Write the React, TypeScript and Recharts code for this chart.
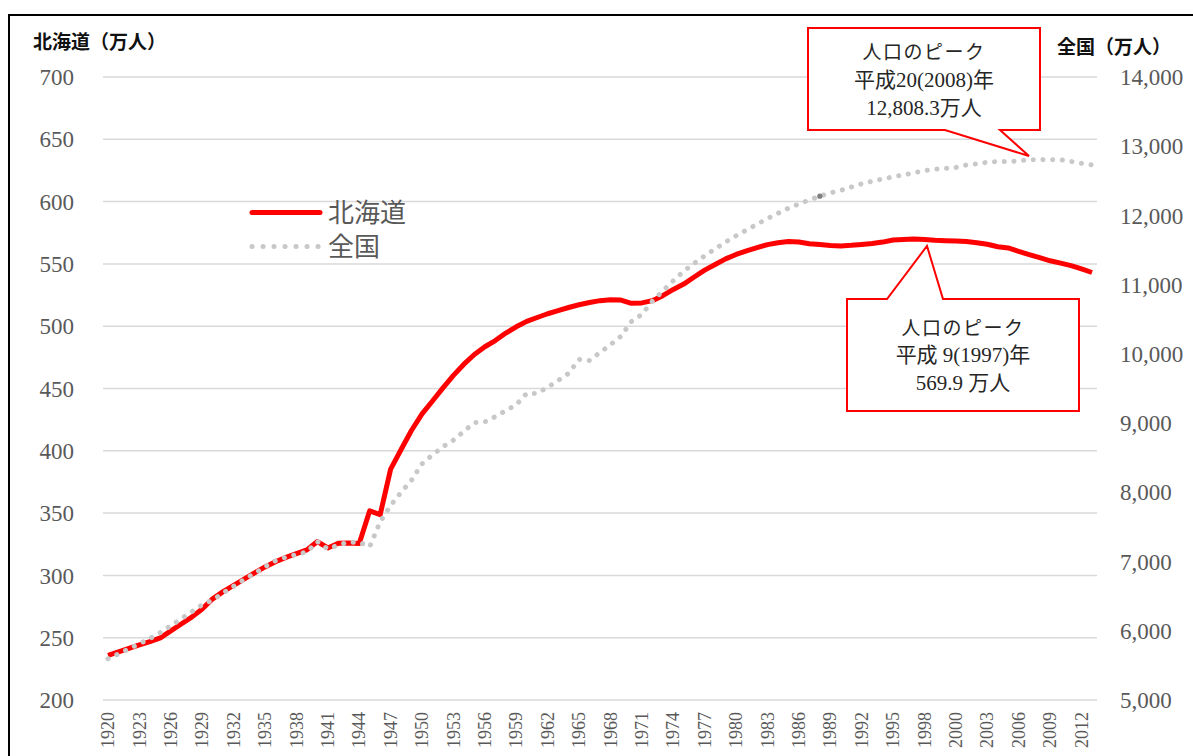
import { LineChart, Line, XAxis, YAxis, CartesianGrid } from "recharts";

// 1920-1998 annual, then two points around 2000, then 2001-2013
const years = [
  "1920", "1921", "1922", "1923", "1924", "1925", "1926", "1927", "1928", "1929",
  "1930", "1931", "1932", "1933", "1934", "1935", "1936", "1937", "1938", "1939",
  "1940", "1941", "1942", "1943", "1944", "1945", "1946", "1947", "1948", "1949",
  "1950", "1951", "1952", "1953", "1954", "1955", "1956", "1957", "1958", "1959",
  "1960", "1961", "1962", "1963", "1964", "1965", "1966", "1967", "1968", "1969",
  "1970", "1971", "1972", "1973", "1974", "1975", "1976", "1977", "1978", "1979",
  "1980", "1981", "1982", "1983", "1984", "1985", "1986", "1987", "1988", "1989",
  "1990", "1991", "1992", "1993", "1994", "1995", "1996", "1997", "1998", "1999",
  "2000", "2000", "2001", "2002", "2003", "2004", "2005", "2006", "2007", "2008",
  "2009", "2010", "2011", "2012", "2013",
];

// 北海道（万人）
const hokkaido = [
  235.9, 238.6, 241.5, 244.2, 246.8, 249.9, 255.5, 261.0, 266.5, 273.0,
  281.2, 287.0, 292.0, 297.0, 302.0, 306.8, 311.0, 314.5, 317.5, 320.5,
  327.2, 322.0, 325.8, 326.0, 325.6, 351.8, 348.8, 385.3, 401.0, 416.5,
  429.6, 440.0, 450.5, 460.5, 469.5, 477.3, 483.5, 488.5, 494.5, 499.5,
  503.9, 507.0, 510.0, 512.5, 515.0, 517.2, 519.0, 520.5, 521.2, 521.0,
  518.4, 518.7, 520.5, 524.5, 529.5, 533.8, 539.5, 545.0, 549.5, 554.0,
  557.6, 560.5, 563.0, 565.5, 567.0, 567.9, 567.5, 566.2, 565.5, 564.8,
  564.4, 564.9, 565.6, 566.3, 567.5, 569.2, 569.6, 569.9, 569.6, 569.0,
  568.6, 568.3, 567.9, 567.0, 565.8, 563.8, 562.8, 560.0, 557.5, 555.0,
  552.5, 550.6, 548.6, 546.0, 543.1,
];

// 全国（万人）
const zenkoku = [
  5596, 5666, 5739, 5812, 5888, 5974, 6074, 6174, 6276, 6376,
  6445, 6545, 6643, 6740, 6831, 6925, 7011, 7063, 7101, 7138,
  7290, 7180, 7240, 7280, 7280, 7215, 7575, 7810, 8000, 8177,
  8412, 8541, 8659, 8754, 8882, 9008, 9017, 9093, 9181, 9264,
  9430, 9429, 9518, 9616, 9718, 9921, 9904, 10020, 10133, 10254,
  10467, 10570, 10760, 10910, 11057, 11194, 11309, 11417, 11517, 11616,
  11706, 11790, 11873, 11954, 12031, 12105, 12166, 12224, 12278, 12326,
  12361, 12410, 12457, 12494, 12527, 12557, 12586, 12616, 12647, 12667,
  12680, 12693, 12729, 12744, 12769, 12779, 12777, 12790, 12803, 12808,
  12803, 12806, 12780, 12752, 12730,
];

const leftTicks = [200, 250, 300, 350, 400, 450, 500, 550, 600, 650, 700];
const rightTicks = [5000, 6000, 7000, 8000, 9000, 10000, 11000, 12000, 13000, 14000];

const data = years.map((year, i) => ({ year, hokkaido: hokkaido[i], zenkoku: zenkoku[i] }));

const GRAY_TEXT = "#595959";
const SERIF = "'Liberation Serif', 'Noto Sans CJK JP', serif";
const CJK = "'Noto Sans CJK JP', sans-serif";

const YearTick = ({ x, y, payload }: any) => (
  <text
    x={x}
    y={y}
    transform={`rotate(-90, ${x}, ${y})`}
    textAnchor="end"
    dy="0.34em"
    fontSize={18}
    fill={GRAY_TEXT}
    fontFamily={SERIF}
  >
    {payload.value}
  </text>
);

const MarkerDot = (p: any) =>
  p.index === 68 ? (
    <circle key={`m-${p.index}`} cx={p.cx} cy={p.cy} r={2.6} fill="#7f7f7f" />
  ) : (
    <g key={`m-${p.index}`} />
  );

export default function App() {
  return (
    <div
      style={{
        position: "fixed",
        left: 0,
        top: 0,
        width: 1193,
        height: 756,
        overflow: "hidden",
        background: "#fff",
      }}
    >
      <div
        style={{
          position: "absolute",
          left: 8,
          top: 14,
          width: 1220,
          height: 800,
          borderLeft: "2px solid #000",
          borderTop: "2px solid #000",
        }}
      />
      <div style={{ position: "absolute", left: 0, top: 0 }}>
        <LineChart width={1193} height={756} data={data} margin={{ top: 77, right: 0, bottom: 0, left: 0 }}>
          <CartesianGrid vertical={false} yAxisId="left" stroke="#d9d9d9" strokeWidth={1.5} />
          <XAxis
            dataKey="year"
            interval={2}
            height={56}
            tickSize={0}
            tickMargin={12}
            axisLine={false}
            tickLine={false}
            padding={{ left: 5, right: 5 }}
            tick={<YearTick />}
          />
          <YAxis
            yAxisId="left"
            domain={[200, 700]}
            ticks={leftTicks}
            width={103}
            tickSize={0}
            tickMargin={29}
            axisLine={false}
            tickLine={false}
            tick={{ fill: GRAY_TEXT, fontSize: 23, fontFamily: SERIF }}
          />
          <YAxis
            yAxisId="right"
            orientation="right"
            domain={[5000, 14000]}
            ticks={rightTicks}
            width={96}
            tickSize={0}
            tickMargin={23}
            axisLine={false}
            tickLine={false}
            tickFormatter={(v: number) => v.toLocaleString("en-US")}
            tick={{ fill: GRAY_TEXT, fontSize: 23, fontFamily: SERIF }}
          />
          <Line
            yAxisId="left"
            type="linear"
            dataKey="hokkaido"
            name="北海道"
            stroke="#ff0000"
            strokeWidth={5}
            strokeLinejoin="round"
            dot={false}
            isAnimationActive={false}
          />
          <Line
            yAxisId="right"
            type="linear"
            dataKey="zenkoku"
            name="全国"
            stroke="#c8c8c8"
            strokeWidth={5}
            strokeDasharray="0.1 9.6"
            strokeLinecap="round"
            dot={<MarkerDot />}
            activeDot={false}
            isAnimationActive={false}
          />
        </LineChart>
      </div>
      <svg
        width={1193}
        height={756}
        style={{ position: "absolute", left: 0, top: 0, pointerEvents: "none" }}
      >
        {/* axis titles */}
        <text x={33} y={49} fontSize={19} fontWeight="bold" fontFamily={CJK} fill="#111">
          北海道（万人）
        </text>
        <text x={1057} y={54} fontSize={19} fontWeight="bold" fontFamily={CJK} fill="#111">
          全国（万人）
        </text>

        {/* legend */}
        <line x1={252} y1={212.5} x2={320} y2={212.5} stroke="#ff0000" strokeWidth={5} strokeLinecap="round" />
        <text x={328} y={222} fontSize={26} fontFamily={CJK} fill={GRAY_TEXT}>
          北海道
        </text>
        <line
          x1={252}
          y1={246.5}
          x2={322}
          y2={246.5}
          stroke="#c8c8c8"
          strokeWidth={5}
          strokeDasharray="0.1 10.9"
          strokeLinecap="round"
        />
        <text x={328} y={256} fontSize={26} fontFamily={CJK} fill={GRAY_TEXT}>
          全国
        </text>

        {/* callout: 全国 peak */}
        <path
          d="M808,28 L1040,28 L1040,130 L1000,130 L1029,156 L945,130 L808,130 Z"
          fill="#fff"
          stroke="#ff0000"
          strokeWidth={2}
        />
        <g fontSize={21} fontFamily={SERIF} fill="#262626" textAnchor="middle">
          <text x={924} y={59} fontSize={19} letterSpacing={1.5}>人口のピーク</text>
          <text x={924} y={87}>平成20(2008)年</text>
          <text x={924} y={115}>12,808.3万人</text>
        </g>

        {/* callout: 北海道 peak */}
        <path
          d="M847,299 L887,299 L927,246 L943,299 L1079,299 L1079,411 L847,411 Z"
          fill="#fff"
          stroke="#ff0000"
          strokeWidth={2}
        />
        <g fontSize={21} fontFamily={SERIF} fill="#262626" textAnchor="middle">
          <text x={963} y={335} fontSize={19} letterSpacing={1.5}>人口のピーク</text>
          <text x={963} y={362}>平成 9(1997)年</text>
          <text x={963} y={390}>569.9 万人</text>
        </g>
      </svg>
    </div>
  );
}
